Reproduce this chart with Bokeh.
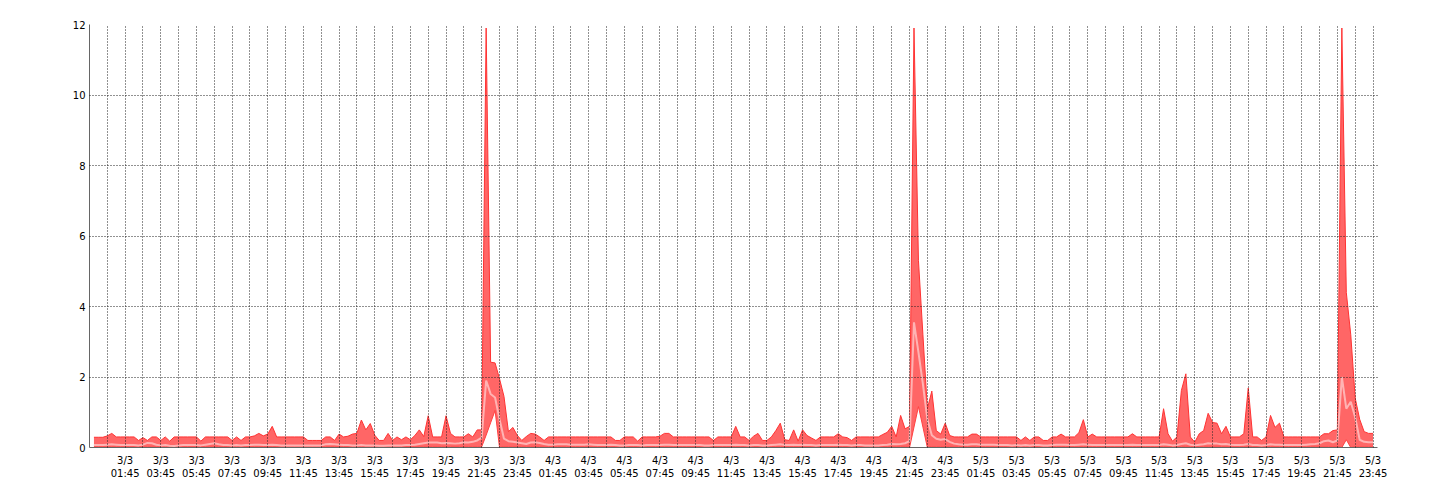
import numpy as np
from bokeh.plotting import figure
from bokeh.models import Range1d, FixedTicker
from bokeh.embed import file_html
from bokeh.resources import INLINE

# 15-minute samples from 3/3 00:00 to 5/3 23:45 (hours since 3/3 00:00)
hours = np.arange(288) * 0.25

max_vals = [
    0.29, 0.29, 0.29, 0.33, 0.40, 0.30, 0.30, 0.30, 0.30, 0.30, 0.20, 0.28, 0.20, 0.30, 0.30, 0.20,
    0.30, 0.18, 0.30, 0.30, 0.30, 0.30, 0.30, 0.30, 0.18, 0.30, 0.30, 0.30, 0.30, 0.30, 0.30, 0.20,
    0.30, 0.20, 0.30, 0.30, 0.33, 0.40, 0.33, 0.38, 0.60, 0.30, 0.30, 0.30, 0.30, 0.30, 0.30, 0.30,
    0.20, 0.20, 0.20, 0.20, 0.30, 0.30, 0.20, 0.38, 0.30, 0.32, 0.38, 0.40, 0.78, 0.50, 0.68, 0.35,
    0.20, 0.20, 0.40, 0.20, 0.30, 0.22, 0.30, 0.22, 0.34, 0.50, 0.31, 0.90, 0.30, 0.30, 0.30, 0.90,
    0.40, 0.30, 0.30, 0.30, 0.39, 0.30, 0.50, 0.50, 11.9, 2.42, 2.40, 1.95, 1.45, 0.45, 0.57, 0.34,
    0.20, 0.31, 0.40, 0.38, 0.30, 0.20, 0.30, 0.30, 0.30, 0.30, 0.30, 0.30, 0.30, 0.30, 0.30, 0.30,
    0.30, 0.30, 0.30, 0.30, 0.30, 0.20, 0.20, 0.30, 0.30, 0.30, 0.18, 0.30, 0.30, 0.30, 0.30, 0.32,
    0.40, 0.40, 0.30, 0.30, 0.30, 0.30, 0.30, 0.30, 0.30, 0.30, 0.30, 0.20, 0.30, 0.30, 0.30, 0.30,
    0.60, 0.30, 0.30, 0.20, 0.32, 0.40, 0.20, 0.20, 0.30, 0.48, 0.69, 0.22, 0.20, 0.50, 0.18, 0.50,
    0.34, 0.27, 0.20, 0.30, 0.30, 0.30, 0.30, 0.39, 0.30, 0.28, 0.20, 0.30, 0.30, 0.30, 0.30, 0.30,
    0.30, 0.37, 0.43, 0.60, 0.30, 0.91, 0.53, 0.60, 11.9, 5.30, 3.20, 1.10, 1.60, 0.48, 0.38, 0.69,
    0.34, 0.30, 0.30, 0.30, 0.30, 0.38, 0.38, 0.30, 0.30, 0.30, 0.30, 0.30, 0.30, 0.30, 0.30, 0.30,
    0.20, 0.30, 0.20, 0.30, 0.30, 0.20, 0.20, 0.30, 0.30, 0.38, 0.30, 0.30, 0.30, 0.42, 0.79, 0.30,
    0.38, 0.30, 0.30, 0.30, 0.30, 0.30, 0.30, 0.30, 0.30, 0.39, 0.30, 0.30, 0.30, 0.30, 0.30, 0.30,
    1.10, 0.39, 0.18, 0.30, 1.62, 2.09, 0.30, 0.15, 0.39, 0.48, 0.97, 0.71, 0.69, 0.39, 0.60, 0.30,
    0.30, 0.30, 0.39, 1.69, 0.30, 0.30, 0.20, 0.30, 0.91, 0.57, 0.69, 0.30, 0.30, 0.30, 0.30, 0.30,
    0.30, 0.30, 0.30, 0.30, 0.39, 0.39, 0.48, 0.50, 11.9, 4.40, 3.20, 1.40, 0.80, 0.45, 0.40, 0.40,
]

avg_vals = [
    0.07, 0.07, 0.07, 0.08, 0.09, 0.08, 0.07, 0.07, 0.07, 0.07, 0.06, 0.08, 0.13, 0.12, 0.08, 0.06,
    0.07, 0.05, 0.04, 0.06, 0.07, 0.07, 0.07, 0.07, 0.06, 0.08, 0.10, 0.12, 0.09, 0.07, 0.07, 0.06,
    0.07, 0.06, 0.07, 0.07, 0.08, 0.08, 0.07, 0.07, 0.08, 0.07, 0.06, 0.06, 0.06, 0.06, 0.06, 0.06,
    0.06, 0.06, 0.06, 0.06, 0.09, 0.10, 0.09, 0.08, 0.07, 0.07, 0.06, 0.06, 0.07, 0.06, 0.06, 0.06,
    0.05, 0.05, 0.06, 0.06, 0.06, 0.06, 0.07, 0.07, 0.08, 0.10, 0.12, 0.14, 0.14, 0.14, 0.12, 0.13,
    0.12, 0.11, 0.12, 0.15, 0.14, 0.16, 0.20, 0.28, 1.90, 1.52, 1.42, 0.80, 0.25, 0.18, 0.16, 0.14,
    0.12, 0.10, 0.14, 0.15, 0.13, 0.10, 0.08, 0.08, 0.09, 0.09, 0.09, 0.08, 0.08, 0.08, 0.08, 0.09,
    0.08, 0.07, 0.07, 0.07, 0.08, 0.07, 0.06, 0.06, 0.07, 0.07, 0.07, 0.06, 0.07, 0.07, 0.07, 0.07,
    0.08, 0.08, 0.07, 0.07, 0.07, 0.07, 0.07, 0.07, 0.07, 0.06, 0.06, 0.07, 0.07, 0.07, 0.07, 0.07,
    0.08, 0.07, 0.07, 0.06, 0.07, 0.07, 0.06, 0.06, 0.07, 0.08, 0.09, 0.07, 0.07, 0.08, 0.07, 0.08,
    0.07, 0.07, 0.06, 0.07, 0.07, 0.07, 0.07, 0.08, 0.07, 0.07, 0.06, 0.07, 0.07, 0.06, 0.06, 0.06,
    0.06, 0.07, 0.08, 0.10, 0.09, 0.10, 0.12, 0.18, 3.55, 2.70, 1.80, 0.80, 0.35, 0.25, 0.22, 0.24,
    0.16, 0.11, 0.09, 0.08, 0.08, 0.09, 0.09, 0.08, 0.08, 0.08, 0.08, 0.07, 0.07, 0.07, 0.06, 0.07,
    0.06, 0.07, 0.06, 0.07, 0.07, 0.06, 0.06, 0.07, 0.08, 0.08, 0.08, 0.07, 0.07, 0.08, 0.09, 0.08,
    0.07, 0.07, 0.07, 0.07, 0.07, 0.07, 0.07, 0.07, 0.07, 0.08, 0.07, 0.07, 0.07, 0.07, 0.07, 0.07,
    0.09, 0.08, 0.06, 0.07, 0.10, 0.12, 0.08, 0.06, 0.08, 0.09, 0.12, 0.11, 0.11, 0.09, 0.10, 0.08,
    0.07, 0.07, 0.08, 0.10, 0.07, 0.07, 0.06, 0.07, 0.09, 0.08, 0.08, 0.07, 0.07, 0.07, 0.07, 0.07,
    0.08, 0.09, 0.10, 0.12, 0.18, 0.20, 0.15, 0.20, 2.00, 1.10, 1.30, 0.85, 0.22, 0.16, 0.15, 0.15,
]

min_vals = [
    0.02, 0.02, 0.02, 0.02, 0.02, 0.02, 0.02, 0.02, 0.02, 0.02, 0.02, 0.02, 0.02, 0.02, 0.02, 0.02,
    0.02, 0.02, 0.02, 0.02, 0.02, 0.02, 0.02, 0.02, 0.02, 0.02, 0.02, 0.02, 0.02, 0.02, 0.02, 0.02,
    0.02, 0.02, 0.02, 0.02, 0.02, 0.02, 0.02, 0.02, 0.02, 0.02, 0.02, 0.02, 0.02, 0.02, 0.02, 0.02,
    0.02, 0.02, 0.02, 0.02, 0.02, 0.02, 0.02, 0.02, 0.02, 0.02, 0.02, 0.02, 0.02, 0.02, 0.02, 0.02,
    0.02, 0.02, 0.02, 0.02, 0.02, 0.02, 0.02, 0.02, 0.02, 0.02, 0.02, 0.02, 0.02, 0.02, 0.02, 0.02,
    0.02, 0.02, 0.02, 0.02, 0.02, 0.02, 0.02, 0.02, 0.35, 0.70, 1.05, 0.00, 0.02, 0.02, 0.02, 0.02,
    0.02, 0.02, 0.02, 0.02, 0.02, 0.02, 0.02, 0.02, 0.02, 0.02, 0.02, 0.02, 0.02, 0.02, 0.02, 0.02,
    0.02, 0.02, 0.02, 0.02, 0.02, 0.02, 0.02, 0.02, 0.02, 0.02, 0.02, 0.02, 0.02, 0.02, 0.02, 0.02,
    0.02, 0.02, 0.02, 0.02, 0.02, 0.02, 0.02, 0.02, 0.02, 0.02, 0.02, 0.02, 0.02, 0.02, 0.02, 0.02,
    0.02, 0.02, 0.02, 0.02, 0.02, 0.02, 0.02, 0.02, 0.02, 0.02, 0.02, 0.02, 0.02, 0.02, 0.02, 0.02,
    0.02, 0.02, 0.02, 0.02, 0.02, 0.02, 0.02, 0.02, 0.02, 0.02, 0.02, 0.02, 0.02, 0.02, 0.02, 0.02,
    0.02, 0.02, 0.02, 0.02, 0.02, 0.02, 0.02, 0.00, 0.58, 1.16, 0.58, 0.00, 0.02, 0.02, 0.02, 0.02,
    0.02, 0.02, 0.02, 0.02, 0.02, 0.02, 0.02, 0.02, 0.02, 0.02, 0.02, 0.02, 0.02, 0.02, 0.02, 0.02,
    0.02, 0.02, 0.02, 0.02, 0.02, 0.02, 0.02, 0.02, 0.02, 0.02, 0.02, 0.02, 0.02, 0.02, 0.02, 0.02,
    0.02, 0.02, 0.02, 0.02, 0.02, 0.02, 0.02, 0.02, 0.02, 0.02, 0.02, 0.02, 0.02, 0.02, 0.02, 0.02,
    0.02, 0.02, 0.02, 0.02, 0.02, 0.02, 0.02, 0.02, 0.02, 0.02, 0.02, 0.02, 0.02, 0.02, 0.02, 0.02,
    0.02, 0.02, 0.02, 0.02, 0.02, 0.02, 0.02, 0.02, 0.02, 0.02, 0.02, 0.02, 0.02, 0.02, 0.02, 0.02,
    0.02, 0.02, 0.02, 0.02, 0.02, 0.02, 0.02, 0.02, 0.00, 0.22, 0.00, 0.02, 0.02, 0.02, 0.02, 0.02,
]

# hourly grid lines at HH:45, labels every two hours
grid_hours = [0.75 + k for k in range(72)]
tick_hours = [1.75 + 2 * k for k in range(36)]
tick_labels = [f"{3 + int(h // 24)}/3\n{int(h % 24):02d}:45" for h in tick_hours]
y_ticks = [0, 2, 4, 6, 8, 10, 12]

FONT = "DejaVu Sans"

p = figure(width=1432, height=492, x_range=Range1d(-0.25, 72.0), y_range=Range1d(0, 12),
           output_backend="svg", toolbar_location=None,
           min_border_left=89, min_border_right=55, min_border_top=24, min_border_bottom=45)
p.outline_line_color = None
p.background_fill_color = "white"

p.varea(x=hours, y1=min_vals, y2=max_vals, fill_color="#ff6666", fill_alpha=1.0)
p.line(hours, max_vals, line_color="#ff3333", line_width=1)
p.line(hours, min_vals, line_color="#ff4040", line_width=1)
p.line(hours, avg_vals, line_color="#ffb3b3", line_width=2)

p.xgrid.ticker = FixedTicker(ticks=grid_hours)
p.ygrid.ticker = FixedTicker(ticks=y_ticks[1:])
for g in (p.xgrid, p.ygrid):
    g.grid_line_color = "#222222"
    g.grid_line_dash = "1 2"
    g.grid_line_width = 1
    g.level = "overlay"

xa = p.xaxis[0]
xa.ticker = FixedTicker(ticks=tick_hours, minor_ticks=[])
xa.major_label_overrides = {h: lab for h, lab in zip(tick_hours, tick_labels)}
ya = p.yaxis[0]
ya.ticker = FixedTicker(ticks=y_ticks, minor_ticks=[])

for ax in (xa, ya):
    ax.axis_line_color = "#666666"
    ax.axis_line_width = 1
    ax.major_tick_line_color = None
    ax.major_tick_out = 0
    ax.major_tick_in = 0
    ax.minor_tick_line_color = None
    ax.major_label_text_font = FONT
    ax.major_label_text_font_size = "10px"
    ax.major_label_text_color = "black"
xa.major_label_standoff = 7
ya.major_label_standoff = 4

open("out.html", "w").write(file_html(p, INLINE))
